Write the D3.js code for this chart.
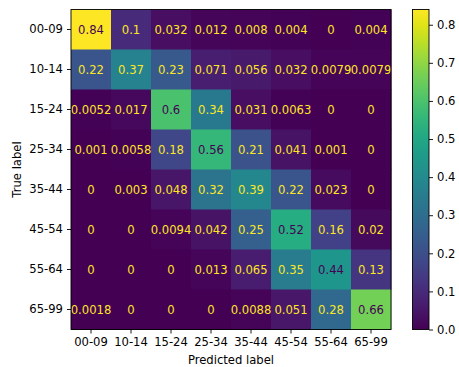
<!DOCTYPE html>
<html>
<head>
<meta charset="utf-8">
<script src="https://cdn.jsdelivr.net/npm/d3@7"></script>
<style>
  html, body { margin: 0; padding: 0; background: #fff; }
  svg text { font-family: "DejaVu Sans", sans-serif; }
</style>
</head>
<body>
<svg id="chart" width="459" height="367"></svg>
<script>
// Age-group classes (true rows, predicted columns)
const classes = ["00-09", "10-14", "15-24", "25-34", "35-44", "45-54", "55-64", "65-99"];

// Row-normalised confusion matrix, one array per true class
const row0009 = [0.84, 0.1, 0.032, 0.012, 0.008, 0.004, 0, 0.004];
const row1014 = [0.22, 0.37, 0.23, 0.071, 0.056, 0.032, 0.0079, 0.0079];
const row1524 = [0.0052, 0.017, 0.6, 0.34, 0.031, 0.0063, 0, 0];
const row2534 = [0.001, 0.0058, 0.18, 0.56, 0.21, 0.041, 0.001, 0];
const row3544 = [0, 0.003, 0.048, 0.32, 0.39, 0.22, 0.023, 0];
const row4554 = [0, 0, 0.0094, 0.042, 0.25, 0.52, 0.16, 0.02];
const row5564 = [0, 0, 0, 0.013, 0.065, 0.35, 0.44, 0.13];
const row6599 = [0.0018, 0, 0, 0, 0.0088, 0.051, 0.28, 0.66];
const matrix = [row0009, row1014, row1524, row2534, row3544, row4554, row5564, row6599];

// Colour bar tick values
const colorTicks = [0.0, 0.1, 0.2, 0.3, 0.4, 0.5, 0.6, 0.7, 0.8];

const FS = 11.6;
const svg = d3.select("#chart");
const plot = { left: 71, top: 9.5, size: 320 };
const cb = { left: 412.5, width: 16.5 };

const allVals = matrix.flat();
const vmin = d3.min(allVals), vmax = d3.max(allVals);
const color = d3.scaleSequential(d3.interpolateViridis).domain([vmin, vmax]);
const thresh = (vmin + vmax) / 2;

const x = d3.scaleBand().domain(classes).range([plot.left, plot.left + plot.size]);
const y = d3.scaleBand().domain(classes).range([plot.top, plot.top + plot.size]);

const cells = [];
matrix.forEach((row, i) => row.forEach((v, j) => cells.push({ t: classes[i], p: classes[j], v })));

svg.append("g").selectAll("rect").data(cells).join("rect")
  .attr("x", d => x(d.p)).attr("y", d => y(d.t))
  .attr("width", x.bandwidth() + 0.5).attr("height", y.bandwidth() + 0.5)
  .attr("fill", d => color(d.v));

// Cell annotations: light text on dark cells, dark text on light cells
const fmt = v => (v === 0 ? "0" : String(+v.toPrecision(2)));
svg.append("g").selectAll("text").data(cells).join("text")
  .attr("x", d => x(d.p) + x.bandwidth() / 2)
  .attr("y", d => y(d.t) + y.bandwidth() / 2)
  .attr("text-anchor", "middle").attr("dominant-baseline", "central")
  .attr("font-size", FS)
  .attr("fill", d => d.v < thresh ? color(vmax) : color(vmin))
  .text(d => fmt(d.v));

// Axes
const styleAxis = g => {
  g.selectAll("path.domain").remove();
  g.selectAll(".tick line").attr("stroke", "#000").attr("stroke-width", 0.9);
  g.selectAll(".tick text").attr("font-size", FS).attr("fill", "#000")
    .style("font-family", "DejaVu Sans, sans-serif");
};
svg.append("g").attr("transform", `translate(0,${plot.top + plot.size})`)
  .call(d3.axisBottom(x).tickSize(4).tickPadding(4)).call(styleAxis);
svg.append("g").attr("transform", `translate(${plot.left},0)`)
  .call(d3.axisLeft(y).tickSize(4).tickPadding(4)).call(styleAxis);

svg.append("rect").attr("x", plot.left).attr("y", plot.top)
  .attr("width", plot.size).attr("height", plot.size)
  .attr("fill", "none").attr("stroke", "#000").attr("stroke-width", 0.9);

svg.append("text").attr("x", plot.left + plot.size / 2).attr("y", 364)
  .attr("text-anchor", "middle").attr("font-size", FS).text("Predicted label");
svg.append("text").attr("transform", `translate(20.5,${plot.top + plot.size / 2}) rotate(-90)`)
  .attr("text-anchor", "middle").attr("font-size", FS).text("True label");

// Colour bar
const cy = d3.scaleLinear().domain([vmin, vmax]).range([plot.top + plot.size, plot.top]);
const defs = svg.append("defs");
const grad = defs.append("linearGradient").attr("id", "cbgrad")
  .attr("x1", 0).attr("y1", 1).attr("x2", 0).attr("y2", 0);
d3.range(0, 1.0001, 0.05).forEach(t => {
  grad.append("stop").attr("offset", t).attr("stop-color", d3.interpolateViridis(t));
});
svg.append("rect").attr("x", cb.left).attr("y", plot.top)
  .attr("width", cb.width).attr("height", plot.size)
  .attr("fill", "url(#cbgrad)").attr("stroke", "#000").attr("stroke-width", 0.9);
svg.append("g").attr("transform", `translate(${cb.left + cb.width},0)`)
  .call(d3.axisRight(cy).tickValues(colorTicks).tickFormat(d3.format(".1f")).tickSize(4).tickPadding(4))
  .call(styleAxis);
</script>
</body>
</html>
